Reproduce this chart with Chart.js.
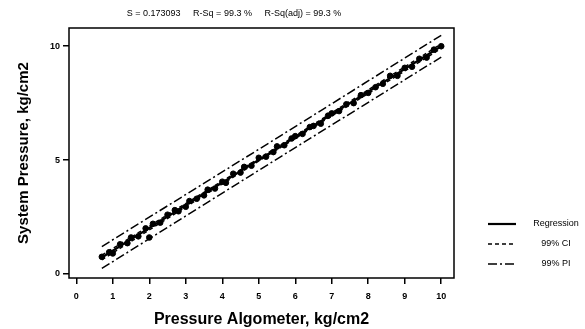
<!DOCTYPE html>
<html>
<head>
<meta charset="utf-8">
<script src="https://cdn.jsdelivr.net/npm/chart.js@4"></script>
<style>
  html, body { margin: 0; padding: 0; background: #fff; }
  #wrap { width: 585px; height: 329px; }
</style>
</head>
<body>
<div id="wrap"><canvas id="chart" width="585" height="329"></canvas></div>
<script>
// observed points (Pressure Algometer vs System Pressure)
const obsX = [0.7, 0.9, 1.0, 1.2, 1.4, 1.5, 1.7, 1.9, 2.0, 2.1, 2.3, 2.5, 2.7, 2.8, 3.0, 3.1, 3.3, 3.5, 3.6, 3.8,
              4.0, 4.1, 4.3, 4.5, 4.6, 4.8, 5.0, 5.2, 5.4, 5.5, 5.7, 5.9, 6.0, 6.2, 6.4, 6.5, 6.7, 6.9, 7.0, 7.2,
              7.4, 7.6, 7.8, 8.0, 8.2, 8.4, 8.6, 8.8, 9.0, 9.2, 9.4, 9.6, 9.8, 10.0];
const obsY = [0.75, 0.95, 0.9, 1.3, 1.35, 1.6, 1.65, 2.0, 1.6, 2.2, 2.25, 2.6, 2.8, 2.75, 2.95, 3.2, 3.3, 3.45, 3.7, 3.75,
              4.05, 4.0, 4.4, 4.45, 4.7, 4.75, 5.1, 5.15, 5.35, 5.6, 5.65, 5.95, 6.05, 6.15, 6.45, 6.5, 6.6, 6.95, 7.05, 7.15,
              7.45, 7.5, 7.85, 7.95, 8.2, 8.35, 8.7, 8.7, 9.05, 9.1, 9.45, 9.5, 9.85, 10.0];

// fitted line and bands
const fitX = [0.7, 5.35, 10.0];
const fitY = [0.72, 5.36, 10.0];
const ciUpper = [0.82, 5.41, 10.1];
const ciLower = [0.62, 5.31, 9.9];
const piUpper = [1.2, 5.82, 10.48];
const piLower = [0.24, 4.9, 9.52];

const xTicks = [0, 1, 2, 3, 4, 5, 6, 7, 8, 9, 10];
const yTicks = [0, 5, 10];
const statsText = 'S = 0.173093     R-Sq = 99.3 %     R-Sq(adj) = 99.3 %';

const pts = (xs, ys) => xs.map((x, i) => ({ x: x, y: ys[i] }));

const frame = {
  id: 'frame',
  afterDraw(chart) {
    const ctx = chart.ctx;
    const a = chart.chartArea;
    ctx.save();
    ctx.strokeStyle = '#000';
    ctx.lineWidth = 1.5;
    ctx.strokeRect(a.left, a.top, a.right - a.left, a.bottom - a.top);

    // stats line above the plot
    ctx.fillStyle = '#000';
    ctx.font = '9px "Liberation Sans", Arial, sans-serif';
    ctx.textAlign = 'center';
    ctx.textBaseline = 'middle';
    ctx.fillText(statsText, 234, 14);

    // legend at right
    const rows = chart.data.datasets.filter(d => d.legendLabel);
    rows.forEach((d, i) => {
      const y = 224 + i * 20;
      ctx.beginPath();
      ctx.setLineDash(d.borderDash || []);
      ctx.lineWidth = d.borderWidth;
      ctx.moveTo(488, y);
      ctx.lineTo(516, y);
      ctx.stroke();
      ctx.setLineDash([]);
      ctx.fillText(d.legendLabel, 556, y);
    });
    ctx.restore();
  }
};

const lineDs = (data, dash, width, label) => ({
  type: 'line', data: data, borderColor: '#000', borderWidth: width, borderDash: dash,
  pointRadius: 0, fill: false, tension: 0, legendLabel: label
});

new Chart(document.getElementById('chart'), {
  type: 'scatter',
  data: {
    datasets: [
      { data: pts(obsX, obsY), backgroundColor: '#000', borderColor: '#000', pointRadius: 2.8 },
      lineDs(pts(fitX, fitY), [], 2.2, 'Regression'),
      lineDs(pts(fitX, ciUpper), [4, 3], 1.5, '99% CI'),
      lineDs(pts(fitX, ciLower), [4, 3], 1.5, null),
      lineDs(pts(fitX, piUpper), [9, 3, 2, 3], 1.5, '99% PI'),
      lineDs(pts(fitX, piLower), [9, 3, 2, 3], 1.5, null)
    ]
  },
  options: {
    responsive: false,
    animation: false,
    layout: { padding: { top: 28, right: 131, left: 0, bottom: 0 } },
    plugins: { legend: { display: false }, tooltip: { enabled: false } },
    scales: {
      x: {
        type: 'linear', min: -0.2, max: 10.35,
        afterBuildTicks: s => { s.ticks = xTicks.map(v => ({ value: v })); },
        afterFit: s => { s.height = 51; },
        grid: { display: true, drawOnChartArea: false, drawTicks: true, tickLength: 6, color: '#000', lineWidth: 1.5 },
        border: { display: false },
        ticks: { color: '#000', padding: 7, font: { family: '"Liberation Sans", Arial', size: 9, weight: 'bold' } },
        title: { display: true, text: 'Pressure Algometer, kg/cm2', color: '#000', padding: { top: 2, bottom: 0 },
                 font: { family: '"Liberation Sans", Arial', size: 16, weight: 'bold' } }
      },
      y: {
        type: 'linear', min: -0.18, max: 10.8,
        afterBuildTicks: s => { s.ticks = yTicks.map(v => ({ value: v })); },
        afterFit: s => { s.width = 69; },
        grid: { display: true, drawOnChartArea: false, drawTicks: true, tickLength: 6, color: '#000', lineWidth: 1.5 },
        border: { display: false },
        ticks: { color: '#000', padding: 3, font: { family: '"Liberation Sans", Arial', size: 9, weight: 'bold' } },
        title: { display: true, text: 'System Pressure, kg/cm2', color: '#000', padding: { top: 15, bottom: 0 },
                 font: { family: '"Liberation Sans", Arial', size: 15, weight: 'bold' } }
      }
    }
  },
  plugins: [frame]
});
</script>
</body>
</html>
